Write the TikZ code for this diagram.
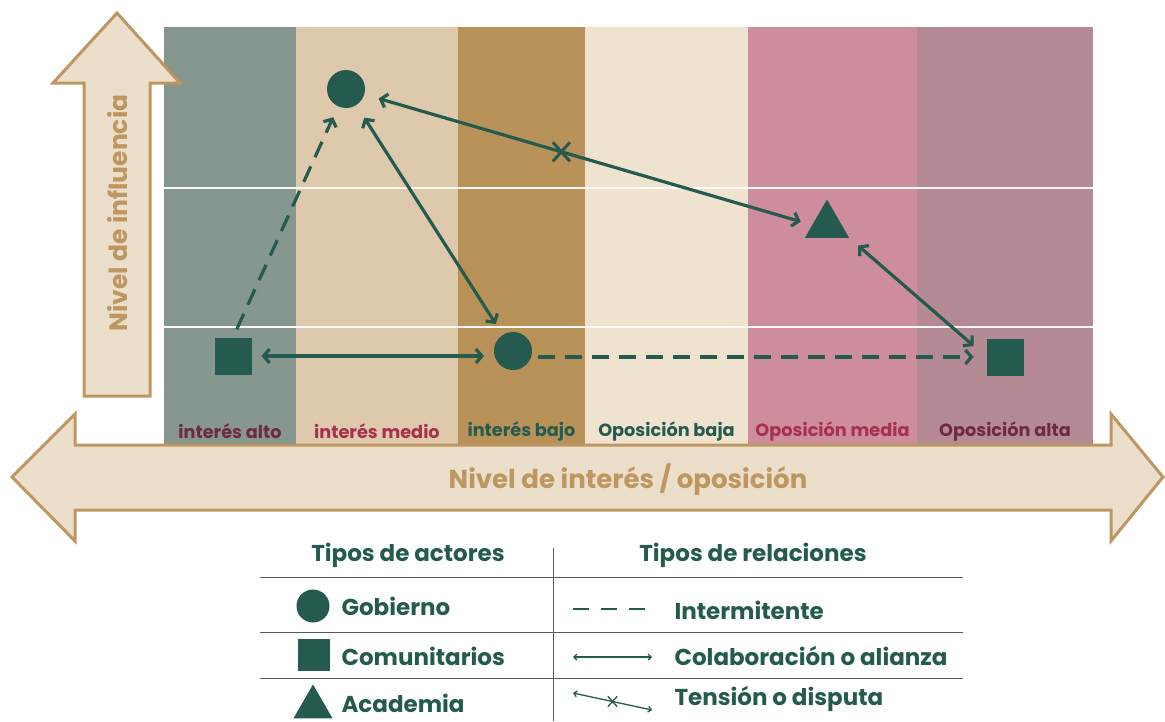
\documentclass[tikz,border=0pt]{standalone}
\usepackage{fontspec}
\setmainfont{Poppins}
\usetikzlibrary{arrows.meta,shapes.geometric,shapes.misc}

\definecolor{colA}{HTML}{85978F}
\definecolor{colB}{HTML}{DEC9AD}
\definecolor{colC}{HTML}{B99259}
\definecolor{colD}{HTML}{EFE3D0}
\definecolor{colE}{HTML}{CE8D9C}
\definecolor{colF}{HTML}{B48B95}
\definecolor{verde}{HTML}{245B4E}
\definecolor{granate}{HTML}{6E2A3E}
\definecolor{carmin}{HTML}{A8304F}
\definecolor{ocre}{HTML}{BD9660}
\definecolor{crema}{HTML}{EBDFCC}

\begin{document}
\begin{tikzpicture}[x=1pt,y=-1pt,
    actor/.style={fill=verde,inner sep=0pt,outer sep=0pt},
    gob/.style={actor,circle,minimum size=38pt},
    com/.style={actor,rectangle,minimum size=37pt},
    acad/.style={actor,regular polygon,regular polygon sides=3,minimum size=51pt},
    rel/.style={verde,line width=3.2pt},
    intermit/.style={rel,dash pattern=on 17pt off 10pt,-{Straight Barb[length=6pt,width=14pt]}},
    collab/.style={rel,{Straight Barb[length=6pt,width=14pt]}-{Straight Barb[length=6pt,width=14pt]}},
    cruz/.style={cross out,draw=verde,-,shorten <=0pt,shorten >=0pt,solid,
      line width=3pt,minimum width=14pt,minimum height=16pt,inner sep=0pt},
    bigarrow/.style={fill=crema,draw=ocre,line width=3pt,line join=miter},
    axislabel/.style={text=ocre,font=\bfseries\fontsize{26}{30}\selectfont},
    collabel/.style={font=\bfseries\fontsize{17.7}{20}\selectfont},
    legtext/.style={text=verde,font=\bfseries\fontsize{23}{27}\selectfont},
    rule/.style={draw=black!65,line width=0.9pt}]
  \useasboundingbox (0,0) rectangle (1165,721);

  % columns
  \foreach \xa/\xb/\col/\txt/\tcol [count=\i] in
      {164/296/colA/interés alto/granate, 296/458/colB/interés medio/carmin,
       458/585/colC/interés bajo/verde, 585/748/colD/Oposición baja/verde,
       748/917/colE/Oposición media/carmin, 917/1093/colF/Oposición alta/granate}
  {
    \fill[\col] (\xa,27) rectangle (\xb,446);
    \node[collabel,text=\tcol] (col\i) at ({(\xa+\xb)/2},431) {\txt};
  }
  \draw[white!80!colD,line width=1.5pt] (164,188) -- (1093,188);
  \draw[white!80!colD,line width=1.5pt] (164,327) -- (1093,327);

  % axes
  \draw[bigarrow] (12,477) -- (75,414) -- (75,445) -- (1111,445) -- (1111,414)
    -- (1163,477) -- (1111,541) -- (1111,510) -- (75,510) -- (75,541) -- cycle;
  \node[axislabel] (ejex) at (628,480) {Nivel de interés / oposición};
  \draw[bigarrow] (117,13) -- (180,83) -- (150,83) -- (150,396) -- (84,396)
    -- (84,83) -- (53,83) -- cycle;
  \node[axislabel,font=\bfseries\fontsize{25}{28}\selectfont,rotate=90] (ejey) at (118,213) {Nivel de influencia};

  % actors
  \node[gob] (gobA) at (346,89) {};
  \node[gob] (gobB) at (513,351) {};
  \node[com] (comA) at (233,356) {};
  \node[com] (comB) at (1005,357) {};
  \node[acad] (acad) at (827,225) {};

  % relations
  \draw[intermit,shorten <=9pt,shorten >=12pt] (comA.north) -- (gobA);
  \draw[collab,shorten <=15pt,shorten >=13pt] (gobA) -- (gobB);
  \draw[collab,shorten <=10pt,shorten >=10pt] (comA.east) -- (gobB.west |- comA.east);
  \draw[intermit,shorten <=6pt,shorten >=13pt] (gobB.east |- comB) -- (comB.west);
  \draw[collab,shorten <=15pt,shorten >=12pt] (gobA) -- (acad.west)
    node[cruz,pos=0.44] (xmark) {};
  \draw[collab,shorten <=12pt,shorten >=17pt] (acad.corner 3) -- (comB.west);

  % legend
  \node[legtext] (hact) at (408,555) {Tipos de actores};
  \node[legtext] (hrel) at (753,555) {Tipos de relaciones};
  \draw[rule] (260,577) -- (963,577);
  \draw[rule] (260,632) -- (963,632);
  \draw[rule] (260,678) -- (963,678);
  \draw[rule] (553,548) -- (553,721);

  \node[gob,minimum size=33pt] (lgob) at (313,606) {};
  \node[com,minimum size=32pt] (lcom) at (314,655) {};
  \node[acad,minimum size=45pt] (lacad) at (313,707) {};
  \node[legtext,anchor=west] (tgob) at (338,606) {Gobierno};
  \node[legtext,anchor=west] (tcom) at (338,656) {Comunitarios};
  \node[legtext,anchor=west] (tacad) at (338,703) {Academia};

  \coordinate (li1) at (573,609);
  \coordinate (li2) at (645,609);
  \coordinate (lc1) at (573,657);
  \coordinate (lc2) at (652,657);
  \coordinate (lt1) at (573,693);
  \coordinate (lt2) at (652,710);
  \draw[verde,line width=1.5pt,dash pattern=on 16pt off 12pt] (li1) -- (li2);
  \draw[verde,line width=1.3pt,{Straight Barb[length=3pt,width=6pt]}-{Straight Barb[length=3pt,width=6pt]}] (lc1) -- (lc2);
  \draw[verde,line width=1.3pt,{Straight Barb[length=3pt,width=6pt]}-{Straight Barb[length=3pt,width=6pt]}] (lt1) -- (lt2)
    node[cruz,pos=0.5,line width=1.3pt,minimum width=8pt,minimum height=9pt] (lx) {};
  \node[legtext,anchor=west] (tint) at (671,610) {Intermitente};
  \node[legtext,anchor=west] (tcol) at (671,656) {Colaboración o alianza};
  \node[legtext,anchor=west] (tten) at (671,699) {Tensión o disputa};
\end{tikzpicture}
\end{document}
